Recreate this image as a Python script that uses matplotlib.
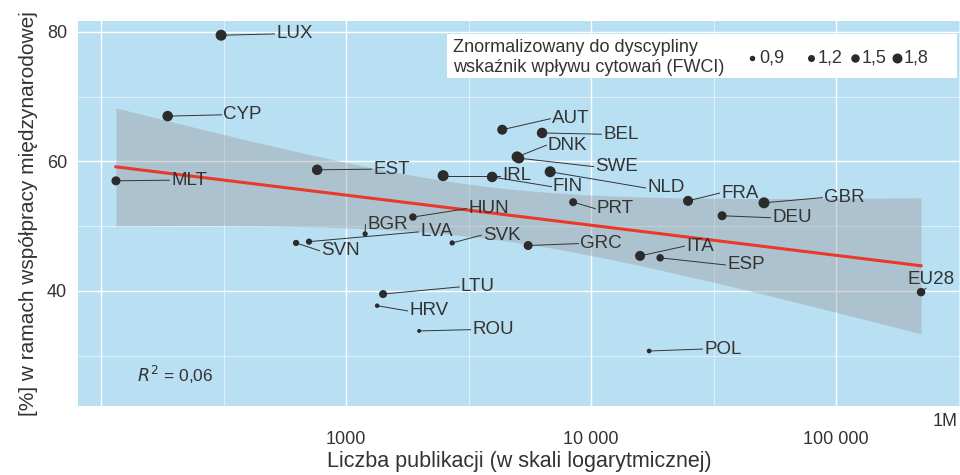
import numpy as np
import matplotlib
matplotlib.use("Agg")
import matplotlib.pyplot as plt
from matplotlib.patches import Rectangle

plt.rcParams['font.family'] = ['Liberation Sans', 'DejaVu Sans']

# ---- data ----
countries = ["LUX", "CYP", "MLT", "EST", "AUT", "BEL", "DNK", "SWE", "IRL", "FIN",
             "NLD", "PRT", "HUN", "BGR", "LVA", "SVN", "SVK", "GRC", "ITA", "ESP",
             "FRA", "GBR", "DEU", "EU28", "LTU", "HRV", "ROU", "POL"]
publications = [309, 187, 115, 762, 4340, 6310, 4990, 5080, 2490, 3945,
                6810, 8450, 1875, 1196, 706, 625, 2711, 5534, 15850, 19140,
                24880, 50800, 34270, 222300, 1416, 1339, 1987, 17260]
intl_collab = [79.5, 67.0, 57.0, 58.7, 64.9, 64.4, 60.7, 60.5, 57.8, 57.6,
               58.4, 53.7, 51.4, 48.8, 47.6, 47.4, 47.4, 47.0, 45.4, 45.1,
               53.9, 53.6, 51.6, 39.8, 39.5, 37.7, 33.8, 30.7]
fwci = [2.0, 1.9, 1.6, 1.9, 1.8, 1.9, 2.0, 1.9, 2.0, 1.9,
        2.0, 1.4, 1.3, 0.85, 1.05, 1.05, 0.85, 1.6, 1.8, 1.3,
        1.8, 2.0, 1.6, 1.5, 1.4, 0.7, 0.6, 0.75]
legend_fwci = [0.9, 1.2, 1.5, 1.8]
legend_labels = ["0,9", "1,2", "1,5", "1,8"]
x_ticks = [100, 1000, 10000, 100000]
x_ticklabels = ["", "1000", "10 000", "100 000"]
y_ticks = [40, 60, 80]
r2_text = "0,06"

# ---- label placement (layout) ----
label_pos = {
    "LUX": (518, 79.7), "CYP": (315, 67.2), "MLT": (193, 57.1), "EST": (1289, 58.8),
    "AUT": (6930, 66.6), "BEL": (11190, 64.2), "DNK": (6670, 62.5), "SWE": (10380, 59.2),
    "IRL": (4330, 57.8), "FIN": (6990, 56.1), "NLD": (16940, 55.9), "PRT": (10570, 52.7),
    "HUN": (3150, 52.7), "BGR": (1218, 50.2), "LVA": (2005, 49.1), "SVK": (3620, 48.6),
    "GRC": (9020, 47.3), "SVN": (791, 46.2), "FRA": (33950, 55.1), "GBR": (89300, 54.4),
    "DEU": (54800, 51.3), "ITA": (24430, 46.9), "ESP": (35900, 44.0), "EU28": (245000, 41.7),
    "LTU": (2943, 40.6), "HRV": (1808, 36.9), "ROU": (3268, 34.0), "POL": (28910, 31.0),
}


def dot_size(f):
    d_px = np.maximum(3.0, 5.5 + (np.asarray(f) - 0.9) * 5.0)
    return (d_px / 1.389) ** 2


BG = "#b9dff3"
DARK = "#2b2b2b"
TXT = "#333333"

fig = plt.figure(figsize=(9.6, 4.75), dpi=100)
ax = fig.add_axes([78 / 960, 1 - 406 / 475, 882 / 960, 385 / 475])
ax.set_facecolor(BG)
for s in ax.spines.values():
    s.set_visible(False)

ax.set_xscale("log")
ax.set_xlim(80.5, 320600)
ax.set_ylim(22.2, 81.7)

# grid
ax.set_xticks(x_ticks)
ax.set_xticklabels(x_ticklabels)
ax.set_xticks([10 ** 2.5, 10 ** 3.5, 10 ** 4.5, 10 ** 5.5], minor=True)
ax.set_xticklabels([], minor=True)
ax.set_yticks(y_ticks)
ax.set_yticks([30, 50, 70], minor=True)
ax.grid(True, which="major", color="white", linewidth=1.0)
ax.grid(True, which="minor", color="white", linewidth=0.5, alpha=0.8)
ax.set_axisbelow(True)
ax.tick_params(axis="both", which="both", length=0, labelsize=13, colors="#333333")
ax.tick_params(axis="x", pad=18)
ax.tick_params(axis="y", pad=8)

# regression with 95% CI
lx = np.log10(np.array(publications, dtype=float))
yy = np.array(intl_collab, dtype=float)
n = len(lx)
b1, b0 = np.polyfit(lx, yy, 1)
resid = yy - (b0 + b1 * lx)
s_err = np.sqrt(np.sum(resid ** 2) / (n - 2))
xm = lx.mean()
sxx = np.sum((lx - xm) ** 2)
t_q = 2.056
gx = np.linspace(lx.min(), lx.max(), 200)
gy = b0 + b1 * gx
half = t_q * s_err * np.sqrt(1 / n + (gx - xm) ** 2 / sxx)
ax.fill_between(10 ** gx, gy - half, gy + half, color="#999999", alpha=0.4, linewidth=0, zorder=1)
ax.plot(10 ** gx, gy, color="#e8392a", linewidth=2.2, zorder=2)

# segments + labels
for c, px, py in zip(countries, publications, intl_collab):
    lxp, lyp = label_pos[c]
    if c == "EU28":
        ax.plot([px, lxp * 0.95], [py, lyp - 1.3], color=TXT, linewidth=0.7, zorder=3)
        ax.text(lxp, lyp, c, ha="center", va="center", fontsize=13.5, color=TXT, zorder=5)
    else:
        ax.plot([px, lxp * 0.985], [py, lyp], color=TXT, linewidth=0.7, zorder=3)
        ax.text(lxp, lyp, c, ha="left", va="center", fontsize=13.5, color=TXT, zorder=5)

ax.scatter(publications, intl_collab, s=dot_size(fwci), color=DARK, zorder=4, linewidths=0)

# R^2
ax.text(140, 27.0, r"$R^2$ = " + r2_text, fontsize=12.5, color=TXT, ha="left", va="center")

# axis labels
ax.set_xlabel("Liczba publikacji (w skali logarytmicznej)", fontsize=15.5, color="#333333", labelpad=2)
ax.set_ylabel("[%] w ramach współpracy międzynarodowej", fontsize=15, color="#333333", labelpad=6)
fig.text(958 / 960, 1 - 422 / 475, "1M", ha="right", va="center", fontsize=13, color="#333333")

# legend (manual)
lg = Rectangle(((447 - 78) / 882, 1 - (78 - 21) / 385), (957 - 447) / 882, (78 - 34) / 385,
               transform=ax.transAxes, facecolor="white", edgecolor="none", zorder=6)
ax.add_patch(lg)
fig.text(453 / 960, 1 - 47 / 475, "Znormalizowany do dyscypliny", fontsize=13, color=TXT, va="center", ha="left", zorder=7)
fig.text(453 / 960, 1 - 68 / 475, "wskaźnik wpływu cytowań (FWCI)", fontsize=13, color=TXT, va="center", ha="left", zorder=7)
leg_x = [752, 811, 855, 897]
for xk, f, lab in zip(leg_x, legend_fwci, legend_labels):
    ax.scatter([(xk - 78) / 882], [1 - (58 - 21) / 385], s=dot_size([f]), color=DARK,
               transform=ax.transAxes, zorder=8, linewidths=0, clip_on=False)
    fig.text((xk + 7) / 960, 1 - 58 / 475, lab, fontsize=13, color=TXT, va="center", ha="left", zorder=8)

fig.savefig("out.png", dpi=100)
